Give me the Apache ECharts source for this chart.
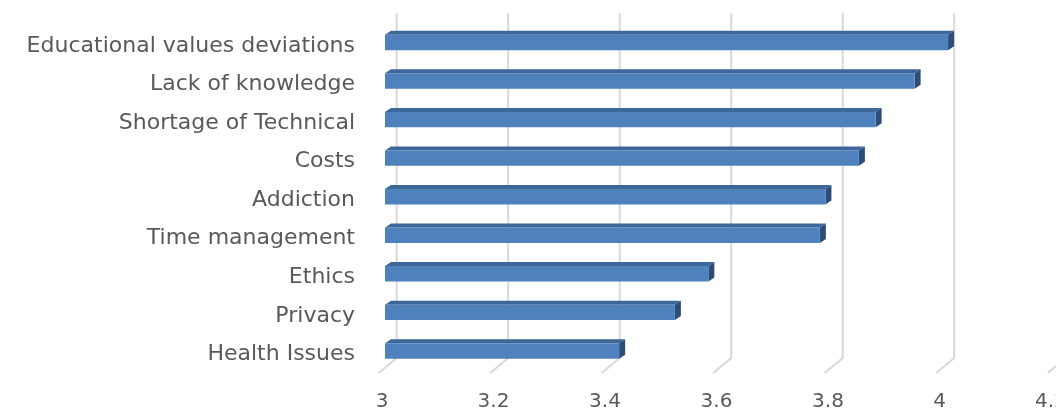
<!DOCTYPE html>
<html>
<head>
<meta charset="utf-8">
<script src="https://cdn.jsdelivr.net/npm/echarts@6/dist/echarts.min.js"></script>
<style>
  html, body { margin: 0; padding: 0; background: #fff; }
  #chart { width: 1056px; height: 411px; }
</style>
</head>
<body>
<div id="chart"></div>
<script>
// Categories listed bottom-to-top (category axis starts at bottom)
var categories = ['Health Issues', 'Privacy', 'Ethics', 'Time management', 'Addiction',
                  'Costs', 'Shortage of Technical', 'Lack of knowledge', 'Educational values deviations'];
var values = [3.42, 3.52, 3.58, 3.78, 3.79, 3.85, 3.88, 3.95, 4.01];
var tickValues = [3, 3.2, 3.4, 3.6, 3.8, 4, 4.2];

var FRONT = '#4f81bd', TOP = '#3d6699', SIDE = '#2c4d77';
var TEXT = '#595959', GRID = '#d9d9d9';
var FONT = '"DejaVu Sans", sans-serif';

var chart = echarts.init(document.getElementById('chart'), null, { renderer: 'canvas' });

function renderBar(params, api) {
  var idx = api.value(0);
  var v = api.value(1);
  var p0 = api.coord([3, idx]);
  var p1 = api.coord([v, idx]);
  var band = api.size([0, 1])[1];
  var h = band * 0.4;
  var dx = 6, dy = 4;
  var yt = p0[1] - h / 2 + 1.5, yb = yt + h;
  var x0 = p0[0], x1 = p1[0];
  return {
    type: 'group',
    children: [
      { type: 'polygon', shape: { points: [[x0, yt], [x0 + dx, yt - dy], [x1 + dx, yt - dy], [x1, yt]] },
        style: { fill: TOP } },
      { type: 'polygon', shape: { points: [[x1, yt], [x1 + dx, yt - dy], [x1 + dx, yb - dy], [x1, yb]] },
        style: { fill: SIDE } },
      { type: 'rect', shape: { x: x0, y: yt, width: x1 - x0, height: h },
        style: { fill: FRONT } }
    ]
  };
}

function renderGridLine(params, api) {
  var v = api.value(0);
  var top = api.coord([v, 1]);
  var bot = api.coord([v, 0]);
  return {
    type: 'polyline',
    shape: { points: [top, bot, [bot[0] - 18, bot[1] + 15]] },
    style: { stroke: GRID, lineWidth: 2, fill: null }
  };
}

var option = {
  animation: false,
  grid: [
    { left: 385, width: 669, top: 21.7, height: 347, containLabel: false, outerBoundsMode: 'none' },
    { left: 396.7, width: 669, top: 13, height: 345, containLabel: false, outerBoundsMode: 'none' }
  ],
  xAxis: [
    { type: 'value', gridIndex: 0, min: 3, max: 4.2, interval: 0.2,
      axisLine: { show: false }, axisTick: { show: false }, splitLine: { show: false },
      axisLabel: { color: TEXT, fontSize: 20, fontFamily: FONT, margin: 23,
                   padding: [0, 6, 0, 0], hideOverlap: false,
                   formatter: function (v) { return String(Math.round(v * 10) / 10); } } },
    { type: 'value', gridIndex: 1, min: 3, max: 4.2, interval: 0.2, show: false }
  ],
  yAxis: [
    { type: 'category', gridIndex: 0, data: categories,
      axisLine: { show: false }, axisTick: { show: false },
      axisLabel: { color: TEXT, fontSize: 22, fontFamily: FONT, margin: 30,
                   verticalAlign: 'top', lineHeight: 10, interval: 0 } },
    { type: 'value', gridIndex: 1, min: 0, max: 1, show: false }
  ],
  series: [
    { type: 'custom', xAxisIndex: 1, yAxisIndex: 1, renderItem: renderGridLine,
      data: tickValues.map(function (t) { return [t]; }), silent: true, z: 1 },
    { type: 'custom', xAxisIndex: 0, yAxisIndex: 0, renderItem: renderBar,
      data: values.map(function (v, i) { return [i, v]; }), z: 2 }
  ]
};
chart.setOption(option);
</script>
</body>
</html>
